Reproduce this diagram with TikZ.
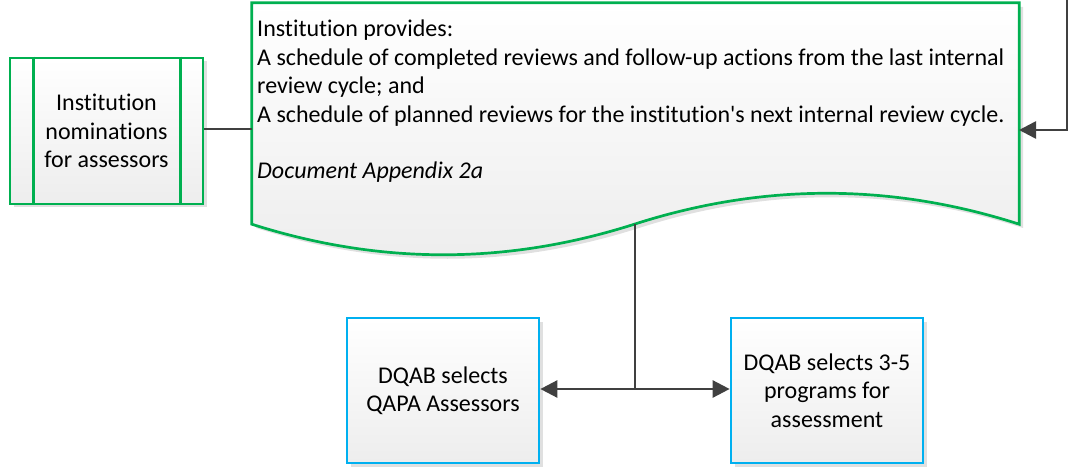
\documentclass[tikz,border=0pt]{standalone}
\usepackage{fontspec}
\setmainfont{Carlito}[Ligatures={TeX,NoCommon}]
\usetikzlibrary{arrows.meta,calc}
\definecolor{vgreen}{HTML}{00B050}
\definecolor{vblue}{HTML}{00B0F0}
\definecolor{conn}{HTML}{404040}
\definecolor{fillbot}{HTML}{EDEDED}
\definecolor{shadowc}{HTML}{E0E0E0}
\begin{document}
\begin{tikzpicture}[x=1pt,y=-1pt,
  txt/.style={font=\fontsize{24}{28.4}\selectfont},
  boxg/.style={draw=vgreen,line width=2.7pt,top color=white,bottom color=fillbot,minimum width=193,minimum height=146,inner sep=0,align=center,txt},
  boxb/.style={draw=vblue,line width=2.7pt,top color=white,bottom color=fillbot,minimum width=192,minimum height=145,inner sep=0,align=center,txt},
  connl/.style={draw=conn,line width=2.6pt},
  arr/.style={connl,-{Triangle[length=17pt,width=17pt]}}]
\useasboundingbox (0,0) rectangle (1073,468);
% shadows
\fill[shadowc] (14,61) rectangle (207,207);
\fill[shadowc] (351,322) rectangle (543,467);
\fill[shadowc] (735,322) rectangle (927,467);
\fill[shadowc] (256,7) -- (1023,7) -- (1023,228) .. controls (895,187) and (767,187) .. (639,228) .. controls (511,269) and (384,269) .. (256,228) -- cycle;
% predefined process
\node[boxg] (pp) at (106.5,131) {Institution\\nominations\\for assessors};
\draw[vgreen,line width=2.7pt] ([xshift=25pt]pp.north west) -- ([xshift=25pt]pp.south west);
\draw[vgreen,line width=2.7pt] ([xshift=-24pt]pp.north east) -- ([xshift=-24pt]pp.south east);
% document shape
\node[minimum width=767,minimum height=221,inner sep=0] (doc) at (635.5,113.5) {};
\path[draw=vgreen,line width=2.7pt,top color=white,bottom color=fillbot]
  (doc.north west) -- (doc.north east) -- (doc.south east)
  .. controls (891,183) and (763,183) .. (635,224)
  .. controls (507,265) and (380,265) .. (doc.south west) -- cycle;
\node[txt,anchor=north west,align=left,inner sep=0] (doctext) at (257,20)
  {Institution provides:\\
   A schedule of completed reviews and follow-up actions from the last internal\\
   review cycle; and\\
   A schedule of planned reviews for the institution\textquotesingle s next internal review cycle.\\[28.4pt]
   \textit{Document Appendix 2a}};
% bottom boxes
\node[boxb] (sel) at (443,390.5) {DQAB selects\\QAPA Assessors};
\node[boxb] (prog) at (827,390.5) {DQAB selects 3-5\\programs for\\assessment};
% connectors
\coordinate (docb) at (635,224);
\coordinate (j) at (635,389);
\coordinate (tr) at (1067,0);
\coordinate (docr) at (1019,130);
\draw[connl] (pp.east |- 0,129) -- (doc.west |- 0,129);
\draw[connl] (docb) -- (j);
\draw[arr] (j) -- (sel.east |- j);
\draw[arr] (j) -- (prog.west |- j);
\draw[arr] (tr) |- (docr);
\end{tikzpicture}
\end{document}
